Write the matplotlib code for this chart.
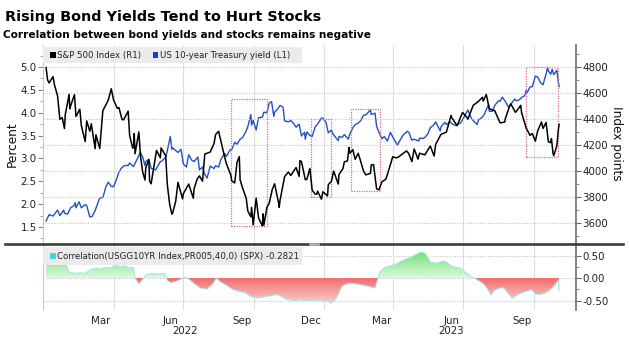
import numpy as np
import pandas as pd
import matplotlib
matplotlib.use("Agg")
import matplotlib.pyplot as plt
import matplotlib.dates as mdates
from matplotlib.patches import Rectangle, PathPatch
from matplotlib.path import Path
from matplotlib.lines import Line2D
from matplotlib.colors import LinearSegmentedColormap

# ---------------- data ----------------
spx_dates = [
    "2022-01-03", "2022-01-05", "2022-01-07", "2022-01-12", "2022-01-14", "2022-01-18", "2022-01-21",
    "2022-01-24", "2022-01-27", "2022-01-28", "2022-02-02", "2022-02-03", "2022-02-04", "2022-02-09",
    "2022-02-11", "2022-02-16", "2022-02-18", "2022-02-23", "2022-02-25", "2022-03-01", "2022-03-03",
    "2022-03-08", "2022-03-09", "2022-03-14", "2022-03-18", "2022-03-25", "2022-03-29", "2022-04-01",
    "2022-04-06", "2022-04-08", "2022-04-12", "2022-04-14", "2022-04-20", "2022-04-22", "2022-04-26",
    "2022-04-27", "2022-04-28", "2022-04-29", "2022-05-04", "2022-05-06", "2022-05-09", "2022-05-12",
    "2022-05-13", "2022-05-17", "2022-05-18", "2022-05-20", "2022-05-27", "2022-06-01", "2022-06-02",
    "2022-06-08", "2022-06-10", "2022-06-13", "2022-06-16", "2022-06-17", "2022-06-21", "2022-06-24",
    "2022-06-30", "2022-07-01", "2022-07-08", "2022-07-14", "2022-07-15", "2022-07-19", "2022-07-22",
    "2022-07-26", "2022-07-29", "2022-08-05", "2022-08-10", "2022-08-12", "2022-08-16", "2022-08-19",
    "2022-08-23", "2022-08-26", "2022-09-01", "2022-09-02", "2022-09-06", "2022-09-09", "2022-09-12",
    "2022-09-13", "2022-09-16", "2022-09-21", "2022-09-23", "2022-09-27", "2022-09-28", "2022-09-30",
    "2022-10-04", "2022-10-07", "2022-10-12", "2022-10-13", "2022-10-14", "2022-10-18", "2022-10-21",
    "2022-10-25", "2022-10-28", "2022-11-02", "2022-11-03", "2022-11-04", "2022-11-10", "2022-11-15",
    "2022-11-18", "2022-11-25", "2022-11-29", "2022-11-30", "2022-12-02", "2022-12-07", "2022-12-09",
    "2022-12-13", "2022-12-16", "2022-12-20", "2022-12-22", "2022-12-23", "2022-12-28", "2022-12-30",
    "2023-01-05", "2023-01-06", "2023-01-10", "2023-01-13", "2023-01-19", "2023-01-20", "2023-01-25",
    "2023-01-27", "2023-01-31", "2023-02-02", "2023-02-03", "2023-02-07", "2023-02-10", "2023-02-14",
    "2023-02-17", "2023-02-21", "2023-02-24", "2023-03-02", "2023-03-03", "2023-03-06", "2023-03-10",
    "2023-03-13", "2023-03-17", "2023-03-22", "2023-03-24", "2023-03-31", "2023-04-04", "2023-04-07",
    "2023-04-14", "2023-04-18", "2023-04-21", "2023-04-25", "2023-04-28", "2023-05-03", "2023-05-05",
    "2023-05-12", "2023-05-19", "2023-05-24", "2023-05-26", "2023-06-02", "2023-06-09", "2023-06-15",
    "2023-06-16", "2023-06-23", "2023-06-30", "2023-07-06", "2023-07-07", "2023-07-14", "2023-07-21",
    "2023-07-26", "2023-07-27", "2023-07-31", "2023-08-04", "2023-08-09", "2023-08-11", "2023-08-18",
    "2023-08-24", "2023-08-25", "2023-08-31", "2023-09-01", "2023-09-07", "2023-09-08", "2023-09-14",
    "2023-09-15", "2023-09-21", "2023-09-22", "2023-09-26", "2023-09-29", "2023-10-03", "2023-10-06",
    "2023-10-11", "2023-10-13", "2023-10-17", "2023-10-20", "2023-10-23", "2023-10-24", "2023-10-26",
    "2023-10-27", "2023-10-31", "2023-11-02", "2023-11-03",
]
spx_values = [
    4796, 4700, 4677, 4726, 4662, 4577, 4398,
    4410, 4326, 4432, 4589, 4478, 4500, 4587,
    4419, 4475, 4349, 4226, 4385, 4306, 4363,
    4171, 4278, 4173, 4463, 4543, 4632, 4546,
    4481, 4488, 4397, 4393, 4460, 4272, 4175,
    4183, 4288, 4132, 4300, 4123, 3991, 3930,
    4024, 4088, 3923, 3901, 4158, 4101, 4177,
    4116, 3901, 3750, 3667, 3675, 3765, 3912,
    3785, 3825, 3899, 3790, 3863, 3937, 3962,
    3921, 4130, 4145, 4210, 4280, 4305, 4228,
    4128, 4058, 3966, 3924, 3908, 4067, 4110,
    3932, 3873, 3790, 3693, 3647, 3719, 3586,
    3791, 3640, 3577, 3670, 3583, 3720, 3752,
    3859, 3901, 3760, 3720, 3771, 3956, 3992,
    3965, 4026, 3958, 4080, 4072, 3933, 3934,
    4019, 3852, 3821, 3822, 3845, 3783, 3840,
    3808, 3895, 3919, 3999, 3899, 3973, 4017,
    4071, 4077, 4180, 4136, 4164, 4090, 4136,
    4079, 3997, 3970, 3982, 4046, 4048, 3862,
    3855, 3917, 3937, 3971, 4109, 4101, 4105,
    4137, 4154, 4133, 4072, 4169, 4091, 4136,
    4124, 4192, 4115, 4205, 4282, 4299, 4426,
    4410, 4348, 4450, 4411, 4399, 4505, 4536,
    4567, 4537, 4589, 4478, 4468, 4464, 4370,
    4376, 4406, 4508, 4516, 4451, 4457, 4505,
    4450, 4330, 4320, 4274, 4288, 4229, 4308,
    4377, 4327, 4373, 4224, 4218, 4248, 4137,
    4117, 4194, 4318, 4358,
]

ust_dates = [
    "2022-01-03", "2022-01-05", "2022-01-07", "2022-01-12", "2022-01-14", "2022-01-18", "2022-01-21",
    "2022-01-26", "2022-01-27", "2022-01-31", "2022-02-04", "2022-02-08", "2022-02-10", "2022-02-11",
    "2022-02-15", "2022-02-18", "2022-02-23", "2022-02-25", "2022-03-01", "2022-03-04", "2022-03-08",
    "2022-03-11", "2022-03-14", "2022-03-18", "2022-03-22", "2022-03-25", "2022-03-29", "2022-04-01",
    "2022-04-05", "2022-04-08", "2022-04-11", "2022-04-14", "2022-04-18", "2022-04-20", "2022-04-22",
    "2022-04-27", "2022-04-29", "2022-05-02", "2022-05-06", "2022-05-09", "2022-05-12", "2022-05-13",
    "2022-05-17", "2022-05-20", "2022-05-26", "2022-06-01", "2022-06-03", "2022-06-08", "2022-06-10",
    "2022-06-14", "2022-06-16", "2022-06-17", "2022-06-22", "2022-06-24", "2022-06-28", "2022-07-01",
    "2022-07-05", "2022-07-08", "2022-07-12", "2022-07-15", "2022-07-20", "2022-07-22", "2022-07-26",
    "2022-07-29", "2022-08-01", "2022-08-05", "2022-08-10", "2022-08-12", "2022-08-16", "2022-08-19",
    "2022-08-24", "2022-08-26", "2022-08-31", "2022-09-02", "2022-09-06", "2022-09-09", "2022-09-13",
    "2022-09-16", "2022-09-20", "2022-09-23", "2022-09-27", "2022-09-28", "2022-09-30", "2022-10-04",
    "2022-10-07", "2022-10-12", "2022-10-14", "2022-10-18", "2022-10-21", "2022-10-24", "2022-10-27",
    "2022-10-28", "2022-11-02", "2022-11-04", "2022-11-08", "2022-11-10", "2022-11-15", "2022-11-18",
    "2022-11-22", "2022-11-25", "2022-11-29", "2022-12-02", "2022-12-06", "2022-12-07", "2022-12-09",
    "2022-12-13", "2022-12-16", "2022-12-20", "2022-12-23", "2022-12-28", "2022-12-30", "2023-01-03",
    "2023-01-06", "2023-01-10", "2023-01-13", "2023-01-19", "2023-01-20", "2023-01-24", "2023-01-27",
    "2023-02-01", "2023-02-03", "2023-02-07", "2023-02-10", "2023-02-14", "2023-02-17", "2023-02-21",
    "2023-02-24", "2023-03-02", "2023-03-03", "2023-03-08", "2023-03-10", "2023-03-13", "2023-03-17",
    "2023-03-20", "2023-03-24", "2023-03-28", "2023-03-31", "2023-04-06", "2023-04-10", "2023-04-14",
    "2023-04-19", "2023-04-21", "2023-04-25", "2023-04-28", "2023-05-04", "2023-05-05", "2023-05-10",
    "2023-05-12", "2023-05-16", "2023-05-19", "2023-05-24", "2023-05-26", "2023-06-01", "2023-06-02",
    "2023-06-07", "2023-06-09", "2023-06-14", "2023-06-16", "2023-06-21", "2023-06-23", "2023-06-27",
    "2023-06-30", "2023-07-06", "2023-07-07", "2023-07-12", "2023-07-14", "2023-07-19", "2023-07-21",
    "2023-07-25", "2023-07-28", "2023-08-03", "2023-08-04", "2023-08-08", "2023-08-11", "2023-08-16",
    "2023-08-18", "2023-08-21", "2023-08-25", "2023-08-29", "2023-09-01", "2023-09-06", "2023-09-08",
    "2023-09-12", "2023-09-15", "2023-09-19", "2023-09-21", "2023-09-22", "2023-09-26", "2023-09-29",
    "2023-10-03", "2023-10-06", "2023-10-10", "2023-10-13", "2023-10-17", "2023-10-19", "2023-10-20",
    "2023-10-23", "2023-10-25", "2023-10-27", "2023-10-31", "2023-11-02", "2023-11-03",
]
ust_values = [
    1.63, 1.70, 1.77, 1.74, 1.78, 1.87, 1.75,
    1.87, 1.80, 1.78, 1.92, 1.96, 2.03, 1.92,
    2.05, 1.92, 1.99, 1.97, 1.72, 1.73, 1.86,
    2.00, 2.14, 2.14, 2.38, 2.48, 2.39, 2.38,
    2.55, 2.70, 2.78, 2.83, 2.85, 2.84, 2.90,
    2.82, 2.89, 2.99, 3.13, 3.03, 2.84, 2.93,
    2.98, 2.78, 2.75, 2.93, 2.94, 3.03, 3.16,
    3.48, 3.20, 3.23, 3.16, 3.13, 3.20, 2.88,
    2.81, 3.08, 2.96, 2.93, 3.03, 2.75, 2.81,
    2.65, 2.57, 2.83, 2.78, 2.84, 2.81, 2.98,
    3.11, 3.04, 3.19, 3.19, 3.35, 3.31, 3.42,
    3.45, 3.57, 3.69, 3.96, 3.73, 3.83, 3.62,
    3.89, 3.90, 4.01, 4.00, 4.21, 4.24, 3.92,
    4.01, 4.10, 4.16, 4.12, 3.82, 3.80, 3.83,
    3.76, 3.68, 3.75, 3.49, 3.57, 3.42, 3.58,
    3.50, 3.48, 3.69, 3.75, 3.88, 3.88, 3.79,
    3.56, 3.62, 3.51, 3.39, 3.48, 3.46, 3.52,
    3.42, 3.53, 3.67, 3.74, 3.77, 3.82, 3.95,
    3.95, 4.06, 3.96, 3.99, 3.70, 3.57, 3.43,
    3.48, 3.38, 3.57, 3.47, 3.29, 3.41, 3.52,
    3.59, 3.57, 3.40, 3.42, 3.38, 3.44, 3.44,
    3.46, 3.54, 3.67, 3.74, 3.80, 3.60, 3.69,
    3.79, 3.74, 3.80, 3.76, 3.72, 3.74, 3.77,
    3.84, 4.03, 4.06, 3.86, 3.83, 3.74, 3.84,
    3.89, 3.95, 4.18, 4.03, 4.03, 4.16, 4.26,
    4.25, 4.34, 4.24, 4.12, 4.18, 4.30, 4.26,
    4.28, 4.33, 4.37, 4.49, 4.43, 4.56, 4.57,
    4.80, 4.78, 4.65, 4.61, 4.85, 4.99, 4.91,
    4.84, 4.95, 4.83, 4.93, 4.66, 4.57,
]

corr_dates = [
    "2022-01-03", "2022-01-08", "2022-01-21", "2022-01-29", "2022-02-02", "2022-02-10", "2022-02-16",
    "2022-02-23", "2022-03-01", "2022-03-08", "2022-03-15", "2022-03-21", "2022-03-28", "2022-04-03",
    "2022-04-10", "2022-04-16", "2022-04-23", "2022-04-27", "2022-04-29", "2022-05-04", "2022-05-08",
    "2022-05-14", "2022-05-22", "2022-05-29", "2022-06-06", "2022-06-10", "2022-06-14", "2022-06-21",
    "2022-06-27", "2022-07-04", "2022-07-10", "2022-07-17", "2022-07-23", "2022-08-01", "2022-08-09",
    "2022-08-13", "2022-08-18", "2022-08-25", "2022-09-04", "2022-09-13", "2022-09-20", "2022-09-27",
    "2022-10-06", "2022-10-14", "2022-10-19", "2022-10-25", "2022-11-01", "2022-11-07", "2022-11-14",
    "2022-11-22", "2022-12-01", "2022-12-10", "2022-12-18", "2022-12-27", "2023-01-05", "2023-01-09",
    "2023-01-14", "2023-01-18", "2023-01-24", "2023-01-29", "2023-02-04", "2023-02-11", "2023-02-17",
    "2023-02-24", "2023-03-02", "2023-03-08", "2023-03-12", "2023-03-15", "2023-03-21", "2023-03-29",
    "2023-04-04", "2023-04-11", "2023-04-17", "2023-04-24", "2023-04-30", "2023-05-07", "2023-05-12",
    "2023-05-20", "2023-05-28", "2023-06-05", "2023-06-10", "2023-06-15", "2023-06-22", "2023-06-28",
    "2023-07-03", "2023-07-09", "2023-07-15", "2023-07-22", "2023-07-28", "2023-08-02", "2023-08-06",
    "2023-08-11", "2023-08-18", "2023-08-23", "2023-08-29", "2023-09-03", "2023-09-09", "2023-09-15",
    "2023-09-21", "2023-09-28", "2023-10-03", "2023-10-08", "2023-10-15", "2023-10-21", "2023-10-27",
    "2023-10-31", "2023-11-02", "2023-11-03",
]
corr_values = [
    0.33, 0.35, 0.35, 0.30, 0.13, 0.10, 0.12,
    0.10, 0.18, 0.22, 0.20, 0.24, 0.22, 0.29,
    0.25, 0.27, 0.22, 0.24, 0.00, -0.13, -0.05,
    0.08, 0.10, 0.09, 0.10, -0.05, -0.10, -0.08,
    -0.03, 0.02, -0.05, -0.15, -0.22, -0.25, -0.12,
    0.00, -0.08, -0.15, -0.26, -0.30, -0.33, -0.41,
    -0.44, -0.42, -0.41, -0.38, -0.37, -0.42, -0.48,
    -0.50, -0.49, -0.50, -0.49, -0.50, -0.51, -0.56,
    -0.50, -0.40, -0.18, -0.14, -0.12, -0.13, -0.15,
    -0.17, -0.20, -0.22, 0.00, 0.15, 0.24, 0.27,
    0.31, 0.37, 0.42, 0.46, 0.52, 0.58, 0.55,
    0.35, 0.33, 0.38, 0.34, 0.27, 0.24, 0.22,
    0.14, 0.06, 0.00, -0.07, -0.14, -0.25, -0.38,
    -0.27, -0.22, -0.22, -0.35, -0.45, -0.38, -0.33,
    -0.30, -0.26, -0.35, -0.37, -0.34, -0.28, -0.18,
    -0.10, -0.05, -0.28,
]

title = "Rising Bond Yields Tend to Hurt Stocks"
subtitle = "Correlation between bond yields and stocks remains negative"
spx_label = "S&P 500 Index (R1)"
ust_label = "US 10-year Treasury yield (L1)"
corr_label = "Correlation(USGG10YR Index,PR005,40,0) (SPX) -0.2821"

month_labels = ["Mar", "Jun", "Sep", "Dec", "Mar", "Jun", "Sep"]
month_label_dates = ["2022-03-15", "2022-06-14", "2022-09-15", "2022-12-15",
                     "2023-03-16", "2023-06-16", "2023-09-15"]
year_labels = ["2022", "2023"]
year_label_dates = ["2022-07-03", "2023-06-15"]
grid_dates = ["2022-04-01", "2022-07-01", "2022-10-01", "2023-01-01",
              "2023-04-01", "2023-07-01", "2023-10-01"]
left_ticks = [1.5, 2.0, 2.5, 3.0, 3.5, 4.0, 4.5, 5.0]
right_ticks = [3600, 3800, 4000, 4200, 4400, 4600, 4800]
corr_ticks = [-0.5, 0.0, 0.5]

# highlight boxes: start, end, low, high (left axis units)
box_starts = ["2022-09-01", "2022-12-15", "2023-02-04", "2023-09-21"]
box_ends = ["2022-10-18", "2023-01-09", "2023-03-15", "2023-11-01"]
box_lows = [1.52, 2.16, 2.29, 3.04]
box_highs = [4.30, 3.86, 4.07, 5.00]

# ---------------- figure ----------------
W, H = 629, 338
fig = plt.figure(figsize=(W / 100, H / 100), dpi=100)
fig.patch.set_facecolor("white")


def fx(px):
    return px / W


def fy(py):
    return 1 - py / H


XL, XR = 43, 576
ax = fig.add_axes([fx(XL), fy(244), fx(XR) - fx(XL), fy(45) - fy(244)])
axr = ax.twinx()
ax2 = fig.add_axes([fx(XL), fy(310), fx(XR) - fx(XL), fy(244) - fy(310)])

xlim = (pd.Timestamp("2021-12-30"), pd.Timestamp("2023-11-25"))
xlim_num = mdates.date2num(xlim)

spx_d = pd.to_datetime(spx_dates)
ust_d = pd.to_datetime(ust_dates)
corr_d = pd.to_datetime(corr_dates)

TICK_FS = 7.4
TICK_COLOR = "#222222"

# vertical grid
for g in grid_dates:
    ax.axvline(pd.Timestamp(g), color="#dedede", lw=0.8, zorder=0)
    ax2.axvline(pd.Timestamp(g), color="#dedede", lw=0.8, zorder=0)

# lines
ax.plot(ust_d, ust_values, color="#2450c0", lw=1.0, zorder=3)
axr.plot(spx_d, spx_values, color="black", lw=1.1, zorder=3)

# highlight boxes
for s, e, lo, hi in zip(box_starts, box_ends, box_lows, box_highs):
    x0 = mdates.date2num(pd.Timestamp(s))
    x1 = mdates.date2num(pd.Timestamp(e))
    ax.add_patch(Rectangle((x0, lo), x1 - x0, hi - lo, fill=False,
                           edgecolor="#dc6a80", lw=0.9, ls=(0, (1, 1)), zorder=4))

ax.set_xlim(xlim)
ax.set_ylim(1.128, 5.48)
axr.set_ylim(3438, 4969)

ax.set_yticks(left_ticks)
ax.set_yticklabels([f"{v:.1f}" for v in left_ticks])
ax.set_yticks(np.arange(1.25, 5.5, 0.25), minor=True)
ax.tick_params(axis="y", which="major", direction="out", length=3.5, width=0.8,
               color="#888888", labelsize=TICK_FS, labelcolor=TICK_COLOR, pad=1)
ax.tick_params(axis="y", which="minor", direction="out", length=2, width=0.6, color="#999999")
ax.tick_params(axis="x", length=0, labelbottom=False)
ax.set_xticks([])

axr.set_yticks(right_ticks)
axr.set_yticklabels([str(v) for v in right_ticks])
axr.set_yticks(np.arange(3500, 4950, 100), minor=True)
axr.tick_params(axis="y", which="major", direction="out", length=3.5, width=0.8,
                color="#666666", labelsize=TICK_FS, labelcolor=TICK_COLOR, pad=1)
axr.tick_params(axis="y", which="minor", direction="out", length=2, width=0.6, color="#777777")
axr.grid(axis="y", color="#c4c4c4", ls=(0, (1, 1.5)), lw=0.8)
axr.set_axisbelow(True)

for sp in ["top", "bottom", "right"]:
    ax.spines[sp].set_visible(False)
ax.spines["left"].set_color("#c8c8c8")
ax.spines["left"].set_linewidth(0.8)
for sp in ["top", "bottom", "left"]:
    axr.spines[sp].set_visible(False)
axr.spines["right"].set_color("#7a7a7a")
axr.spines["right"].set_linewidth(1.3)

# ---------------- correlation panel ----------------
xn = mdates.date2num(corr_d)
cv = np.array(corr_values, dtype=float)
ax2.plot(corr_d, cv, color="#a6e6ea", lw=0.8, zorder=3)
pos = ax2.fill_between(xn, 0, cv, where=cv >= 0, interpolate=True,
                       facecolor="none", edgecolor="none")
neg = ax2.fill_between(xn, 0, cv, where=cv <= 0, interpolate=True,
                       facecolor="none", edgecolor="none")
grad = np.linspace(0, 1, 256).reshape(-1, 1)
gcmap = LinearSegmentedColormap.from_list("g", ["#dff8df", "#6cdf6c"])
rcmap = LinearSegmentedColormap.from_list("r", ["#fcdada", "#f26c6c"])
img_g = ax2.imshow(grad, extent=[xlim_num[0], xlim_num[1], 0, 0.62], origin="lower",
                   aspect="auto", cmap=gcmap, zorder=2, interpolation="bilinear")
img_r = ax2.imshow(grad, extent=[xlim_num[0], xlim_num[1], -0.62, 0], origin="lower",
                   aspect="auto", cmap=rcmap, zorder=2, interpolation="bilinear")
pp = PathPatch(Path.make_compound_path(*pos.get_paths()), transform=ax2.transData,
               facecolor="none", edgecolor="none")
pn = PathPatch(Path.make_compound_path(*neg.get_paths()), transform=ax2.transData,
               facecolor="none", edgecolor="none")
img_g.set_clip_path(pp)
img_r.set_clip_path(pn)

ax2.set_xlim(xlim_num)
ax2.set_ylim(-0.71, 0.756)
ax2.yaxis.tick_right()
ax2.set_yticks(corr_ticks)
ax2.set_yticklabels([f"{v:.2f}" for v in corr_ticks])
ax2.set_yticks([-0.25, 0.25], minor=True)
ax2.tick_params(axis="y", which="major", direction="out", length=3.5, width=0.8,
                color="#666666", labelsize=TICK_FS, labelcolor=TICK_COLOR, pad=1)
ax2.tick_params(axis="y", which="minor", direction="out", length=2, width=0.6, color="#777777")
for v in corr_ticks:
    ax2.axhline(v, color="#c4c4c4", ls=(0, (1, 1.5)), lw=0.8, zorder=1)
ax2.set_xticks(mdates.date2num(pd.to_datetime(month_label_dates)))
ax2.set_xticklabels(month_labels)
ax2.tick_params(axis="x", length=0, labelsize=TICK_FS, labelcolor=TICK_COLOR, pad=4.5)
for lab, d in zip(year_labels, year_label_dates):
    ax2.text(mdates.date2num(pd.Timestamp(d)), fy(331.5), lab, fontsize=TICK_FS,
             color=TICK_COLOR, ha="center", va="center",
             transform=ax2.get_xaxis_transform().__class__(ax2.transData, fig.transFigure))
for sp in ["top", "bottom", "left"]:
    ax2.spines[sp].set_visible(False)
ax2.spines["right"].set_color("#7a7a7a")
ax2.spines["right"].set_linewidth(1.3)
ax2.axvline(xlim_num[0], color="#c8c8c8", lw=0.8)
ax2.set_facecolor("white")

# ---------------- titles, labels, legends ----------------
fig.text(fx(5), fy(16.5), title, fontsize=10.4, fontweight="bold", ha="left", va="center",
         color="black")
fig.text(fx(3.5), fy(34.5), subtitle, fontsize=7.55, fontweight="bold", ha="left",
         va="center", color="black")
fig.text(fx(12.5), fy(144), "Percent", fontsize=8.7, rotation=90, ha="center",
         va="center", color="#111111")
fig.text(fx(616), fy(143.5), "Index points", fontsize=8.7, rotation=270, ha="center",
         va="center", color="#111111")


def fig_rect(x0, y0, x1, y1, color, z=5):
    r = Rectangle((fx(x0), fy(y1)), fx(x1) - fx(x0), fy(y0) - fy(y1),
                  transform=fig.transFigure, facecolor=color, edgecolor="none", zorder=z)
    fig.patches.append(r)


LEG_FS = 6.2
fig_rect(43.5, 47, 302, 63, "#ebebeb")
fig_rect(50, 52.5, 55.5, 58, "black", 6)
fig.text(fx(57.3), fy(55.5), spx_label, fontsize=LEG_FS, ha="left", va="center",
         color="#222222", zorder=7)
fig_rect(153, 52.5, 158.5, 58, "#1040d0", 6)
fig.text(fx(159.8), fy(55.5), ust_label, fontsize=LEG_FS, ha="left", va="center",
         color="#222222", zorder=7)

fig_rect(43.5, 247, 302, 265, "#ebebeb")
fig_rect(50, 253, 55.5, 258.5, "#3fd7e0", 6)
fig.text(fx(57.3), fy(256), corr_label, fontsize=LEG_FS, ha="left", va="center",
         color="#222222", zorder=7)

# separator between panels
fig.lines.append(Line2D([fx(5), fx(623)], [fy(244), fy(244)], transform=fig.transFigure,
                        color="#3c3c3c", lw=1.9, zorder=8))
fig.lines.append(Line2D([fx(310), fx(318)], [fy(244), fy(244)], transform=fig.transFigure,
                        color="#b0b0b0", lw=1.9, zorder=9))

fig.savefig("out.png", dpi=100, facecolor="white")
